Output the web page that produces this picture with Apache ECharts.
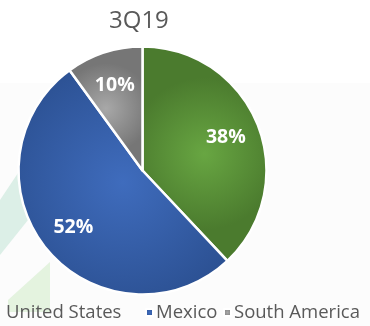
<!DOCTYPE html>
<html><head><meta charset="utf-8">
<script src="https://cdn.jsdelivr.net/npm/echarts@6/dist/echarts.min.js"></script>
<style>html,body{margin:0;padding:0;background:#fff;}#c{width:370px;height:326px;}</style>
</head><body><div id="c"></div>
<script>
const title = '3Q19';
const categories = ['United States', 'Mexico', 'South America'];
const values = [38, 52, 10];

const cx = 142.5, cy = 170.5;
const colors = [
  ['#68a642', '#4b7b2e'],
  ['#3f6cbd', '#2c5193'],
  ['#a8a8a8', '#767676']
];
const legendLeft = [-20, 140, 218];
const legendPad = [8, -2, -2];
const chart = echarts.init(document.getElementById('c'), null, {renderer: 'canvas'});
chart.setOption({
  backgroundColor: '#ffffff',
  animation: false,
  graphic: [
    {type: 'rect', shape: {x: 0, y: 83, width: 370, height: 243}, style: {fill: '#fcfcfc'}, z: -10, silent: true},
    {type: 'polygon', shape: {points: [[0, 255], [0, 200], [40, 140], [60, 140], [60, 180]]}, style: {fill: '#dcefe7'}, z: -9, silent: true},
    {type: 'polygon', shape: {points: [[8, 300], [50, 262], [50, 312], [8, 312]]}, style: {fill: '#e4f3df'}, z: -9, silent: true}
  ],
  title: {
    text: title, left: 104, top: 4,
    textStyle: {fontFamily: 'Open Sans', fontSize: 24, fontWeight: 'normal', color: '#595959'}
  },
  legend: categories.map((n, i) => ({
    data: [n], bottom: -1, left: legendLeft[i], itemWidth: 7, itemHeight: 7,
    icon: 'rect',
    textStyle: {fontFamily: 'Open Sans', fontSize: 18.5, color: '#595959', padding: [0, 0, 0, legendPad[i]]}
  })),
  series: [{
    type: 'pie', center: [cx, cy], radius: [0, 124], startAngle: 90, clockwise: true,
    data: categories.map((n, i) => ({
      name: n, value: values[i],
      itemStyle: {color: {type: 'radial', x: 0.5, y: 0.5, r: 0.6, colorStops: [{offset: 0, color: colors[i][0]}, {offset: 1, color: colors[i][1]}]}}
    })),
    itemStyle: {borderColor: '#ffffff', borderWidth: 2.5},
    label: {show: true, position: 'inside', formatter: '{c}%', color: '#ffffff', fontFamily: 'Open Sans', fontSize: 19.5, fontWeight: 'bold'},
    labelLine: {show: false},
    labelLayout: function (p) {
      const r = p.labelRect;
      const lx = r.x + r.width / 2, ly = r.y + r.height / 2;
      const k = 0.38;
      return {dx: (lx - cx) * k, dy: (ly - cy) * k};
    },
    emphasis: {disabled: true}
  }]
});
</script></body></html>
